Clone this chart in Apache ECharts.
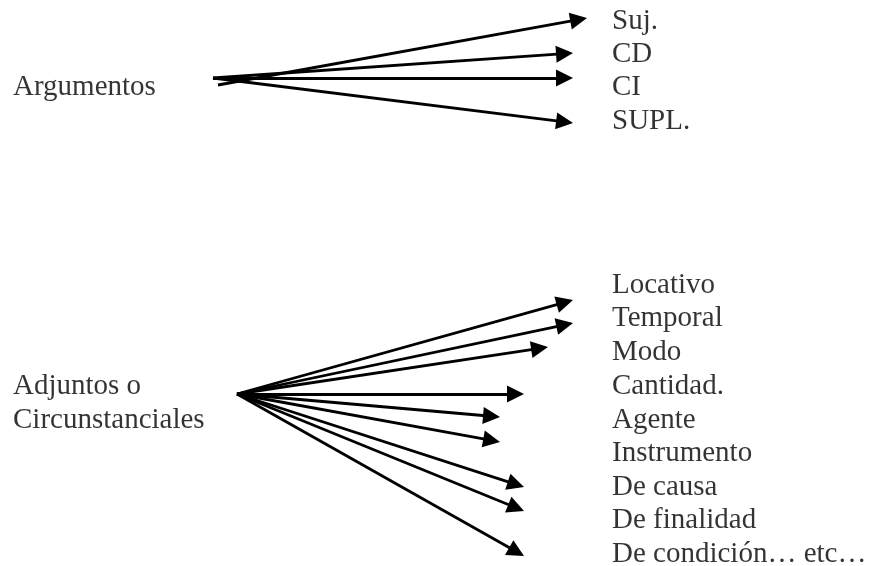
<!DOCTYPE html>
<html>
<head>
<meta charset="utf-8">
<script src="https://cdn.jsdelivr.net/npm/echarts@6/dist/echarts.min.js"></script>
<style>
html,body{margin:0;padding:0;background:#fff;}
#chart{width:869px;height:566px;}
</style>
</head>
<body>
<div id="chart"></div>
<script>
// Left-hand group labels
const groupLabels = ['Argumentos', 'Adjuntos o', 'Circunstanciales'];
const groupLabelX = [13, 13, 13];
const groupLabelY = [87.5, 386, 420];

// Argument labels (right side, top)
const argLabels = ['Suj.', 'CD', 'CI', 'SUPL.'];
const argLabelY = [21, 54, 87.5, 121];

// Adjunct labels (right side, bottom)
const adjLabels = ['Locativo', 'Temporal', 'Modo', 'Cantidad.', 'Agente', 'Instrumento', 'De causa', 'De finalidad', 'De condición… etc…'];
const adjLabelY = [285, 318.5, 352, 386, 420, 453.5, 487, 520.5, 554];
const rightLabelX = 612;

// Arrows of the "Argumentos" group: start and tip points
const argStartX = [218, 213, 213, 213];
const argStartY = [85, 78, 78, 78];
const argTipX = [587, 573, 573, 573];
const argTipY = [18, 53, 78, 123];

// Arrows of the "Adjuntos" fan: shared origin and tips
const adjOrigin = [237, 394];
const adjTipX = [573, 573, 548, 524, 500, 500, 524, 524, 524];
const adjTipY = [300, 323, 347, 394, 417, 442, 487, 511, 556];

const headW = 15, headL = 17;

function arrow(x1, y1, x2, y2) {
  // shorten so that the triangle's tip lands on (x2, y2)
  const dx = x2 - x1, dy = y2 - y1, len = Math.sqrt(dx * dx + dy * dy);
  const k = (len - headL / 2) / len;
  return { coords: [[x1, y1], [x1 + dx * k, y1 + dy * k]] };
}

const arrows = [];
argTipX.forEach((x, i) => arrows.push(arrow(argStartX[i], argStartY[i], x, argTipY[i])));
adjTipX.forEach((x, i) => arrows.push(arrow(adjOrigin[0], adjOrigin[1], x, adjTipY[i])));

const textData = [];
groupLabels.forEach((t, i) => textData.push({ value: [groupLabelX[i], groupLabelY[i]], name: t }));
argLabels.forEach((t, i) => textData.push({ value: [rightLabelX, argLabelY[i]], name: t }));
adjLabels.forEach((t, i) => textData.push({ value: [rightLabelX, adjLabelY[i]], name: t }));

const chart = echarts.init(document.getElementById('chart'), null, { renderer: 'canvas' });
chart.setOption({
  backgroundColor: '#ffffff',
  animation: false,
  grid: { left: 0, right: 0, top: 0, bottom: 0 },
  xAxis: { type: 'value', min: 0, max: 869, show: false },
  yAxis: { type: 'value', min: 0, max: 566, inverse: true, show: false },
  series: [
    {
      type: 'lines',
      coordinateSystem: 'cartesian2d',
      polyline: false,
      symbol: ['none', 'triangle'],
      symbolSize: [headW, headL],
      lineStyle: { color: '#000', width: 2.8, opacity: 1, curveness: 0 },
      itemStyle: { color: '#000' },
      data: arrows,
      silent: true,
      z: 2
    },
    {
      type: 'scatter',
      symbolSize: 0,
      silent: true,
      data: textData,
      label: {
        show: true,
        position: 'right',
        distance: 0,
        formatter: p => p.name,
        color: '#000',
        fontFamily: '"Liberation Serif", "Times New Roman", serif',
        fontSize: 29,
        verticalAlign: 'middle'
      },
      z: 3
    }
  ]
});
</script>
</body>
</html>
